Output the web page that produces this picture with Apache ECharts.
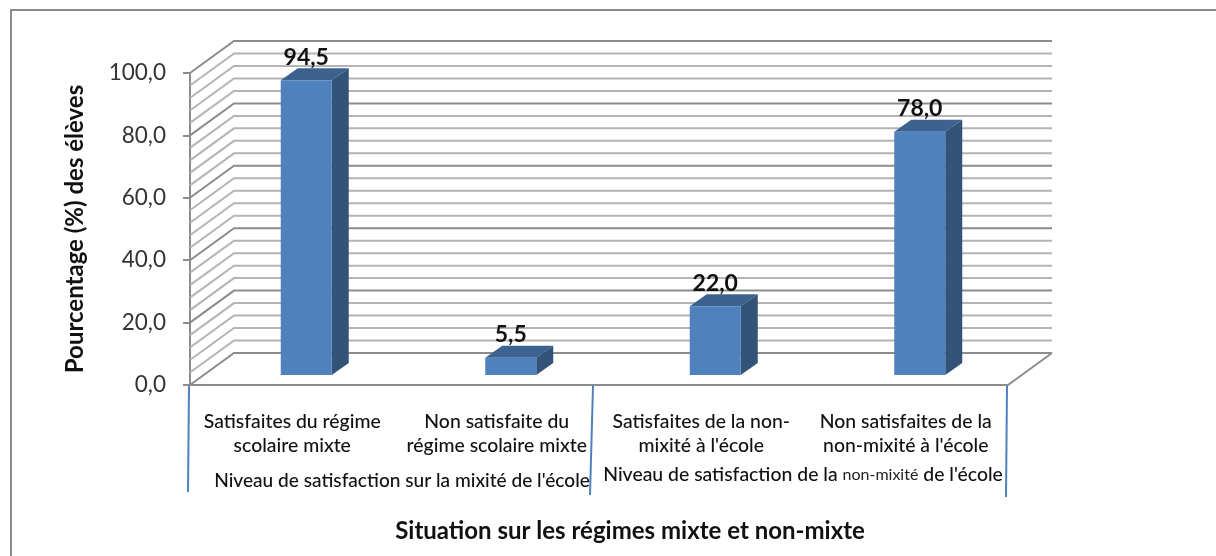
<!DOCTYPE html>
<html>
<head>
<meta charset="utf-8">
<style>
  html, body { margin: 0; padding: 0; background: #fff; }
  #chart { width: 1216px; height: 556px; filter: blur(0.5px); }
</style>
<script src="https://cdn.jsdelivr.net/npm/echarts@6/dist/echarts.min.js"></script>
</head>
<body>
<div id="chart"></div>
<script>
const categories = [
  "Satisfaites du régime\nscolaire mixte",
  "Non satisfaite du\nrégime scolaire mixte",
  "Satisfaites de la non-\nmixité à l'école",
  "Non satisfaites de la\nnon-mixité à l'école",
];
const values = [94.5, 5.5, 22.0, 78.0];
const wallLevels = [0, 4, 8, 12, 16, 20, 24, 28, 32, 36, 40, 44, 48, 52, 56, 60, 64, 68, 72, 76, 80, 84, 88, 92, 96, 100];

const yAxisTitle = "Pourcentage (%) des élèves";
const xAxisTitle = "Situation sur les régimes mixte et non-mixte";
const groupMixte = "Niveau de satisfaction sur la mixité de l'école";
const groupNonMixte = "{a|Niveau de satisfaction de la }{b|non-mixité}{a| de l'école}";

const FONT = 'Lato, sans-serif';
const comma = (v) => v.toFixed(1).replace(".", ",");

// 3D look: depth of the whole box, and of a bar inside it
const boxDx = 44, boxDy = -32;
const barInX = 14, barInY = -10;
const barW = 51, barDx = 17, barDy = -12;

const chart = echarts.init(document.getElementById("chart"), null, { renderer: "canvas" });

chart.setOption({
  animation: false,
  backgroundColor: "#fff",
  textStyle: { fontFamily: FONT },
  grid: { left: 190, right: 208, top: 73, bottom: 171 },
  xAxis: {
    type: "category",
    data: categories,
    axisLine: { show: false },
    axisTick: { show: false },
    axisLabel: { color: "#111", fontSize: 19.4, lineHeight: 24, margin: 25, fontWeight: 500, interval: 0 },
  },
  yAxis: {
    type: "value",
    min: 0,
    max: 100,
    interval: 20,
    splitLine: { show: false },
    axisLine: { show: true, lineStyle: { color: "#8c8c8c", width: 2 } },
    axisTick: { show: true, length: 7, lineStyle: { color: "#8c8c8c", width: 2 } },
    axisLabel: { color: "#333", fontSize: 22.5, margin: 24, padding: [5, 0, 0, 0], formatter: (v) => comma(v) },
  },
  graphic: [
    // picture frame, cut by the right and bottom edges
    { type: "polyline", shape: { points: [[11, 556], [11, 10], [1216, 10]] }, style: { stroke: "#8a8a8a", lineWidth: 2, fill: null } },
    // group separators
    { type: "line", shape: { x1: 189, y1: 386, x2: 188, y2: 492 }, style: { stroke: "#4f81bd", lineWidth: 2 } },
    { type: "line", shape: { x1: 593, y1: 386, x2: 590, y2: 495 }, style: { stroke: "#4f81bd", lineWidth: 2 } },
    { type: "line", shape: { x1: 1007, y1: 386, x2: 1006, y2: 497 }, style: { stroke: "#4f81bd", lineWidth: 2 } },
    { type: "text", x: 402, y: 481, style: { text: groupMixte, fill: "#111", font: `500 19.1px ${FONT}`, align: "center", verticalAlign: "middle" } },
    {
      type: "text", x: 803, y: 475,
      style: {
        text: groupNonMixte, align: "center", verticalAlign: "middle",
        rich: {
          a: { fill: "#111", font: `500 19.4px ${FONT}`, lineHeight: 24 },
          b: { fill: "#222", font: `400 16px ${FONT}`, lineHeight: 24 },
        },
      },
    },
    { type: "text", x: 75, y: 229, rotation: Math.PI / 2, style: { text: yAxisTitle, fill: "#111", font: `700 24px ${FONT}`, align: "center", verticalAlign: "middle" } },
    { type: "text", x: 630, y: 531, style: { text: xAxisTitle, fill: "#111", font: `700 24px ${FONT}`, align: "center", verticalAlign: "middle" } },
  ],
  series: [
    {
      // floor, left wall and back wall lines
      type: "custom",
      z: 1,
      data: wallLevels.map((l) => [0, l]),
      renderItem: (params, api) => {
        const sys = params.coordSys;
        const level = api.value(1);
        const y = api.coord([0, level])[1];
        const left = sys.x, right = sys.x + sys.width;
        const major = level % 20 === 0;
        const color = major ? "#8c8c8c" : "#b4b4b4";
        const children = [
          { type: "polyline", shape: { points: [[left, y], [left + boxDx, y + boxDy], [right + boxDx, y + boxDy]] }, style: { stroke: color, lineWidth: 2, fill: null } },
        ];
        if (level === 0) {
          children.push({ type: "polyline", shape: { points: [[left, y], [right, y], [right + boxDx, y + boxDy]] }, style: { stroke: "#8c8c8c", lineWidth: 2, fill: null } });
        }
        return { type: "group", children };
      },
    },
    {
      // bars as three faces, value labels above
      type: "custom",
      z: 2,
      data: values.map((v, i) => [i, v]),
      renderItem: (params, api) => {
        const i = api.value(0), v = api.value(1);
        const [cx, y0] = api.coord([i, 0]);
        const yv = api.coord([i, v])[1];
        const l = cx + barInX - barW / 2, r = l + barW;
        const b = y0 + barInY, t = yv + barInY;
        return {
          type: "group",
          children: [
            { type: "polygon", shape: { points: [[l, t], [r, t], [r + barDx, t + barDy], [l + barDx, t + barDy]] }, style: { fill: "#3c6290" } },
            { type: "polygon", shape: { points: [[r, t], [r + barDx, t + barDy], [r + barDx, b + barDy], [r, b]] }, style: { fill: "#335379" } },
            { type: "rect", shape: { x: l, y: t, width: barW, height: b - t }, style: { fill: "#4f81bd" } },
            { type: "text", x: cx + barInX, y: t + barDy - 11, style: { text: comma(v), fill: "#111", font: `700 23px ${FONT}`, align: "center", verticalAlign: "middle" } },
          ],
        };
      },
    },
  ],
});
</script>
</body>
</html>
